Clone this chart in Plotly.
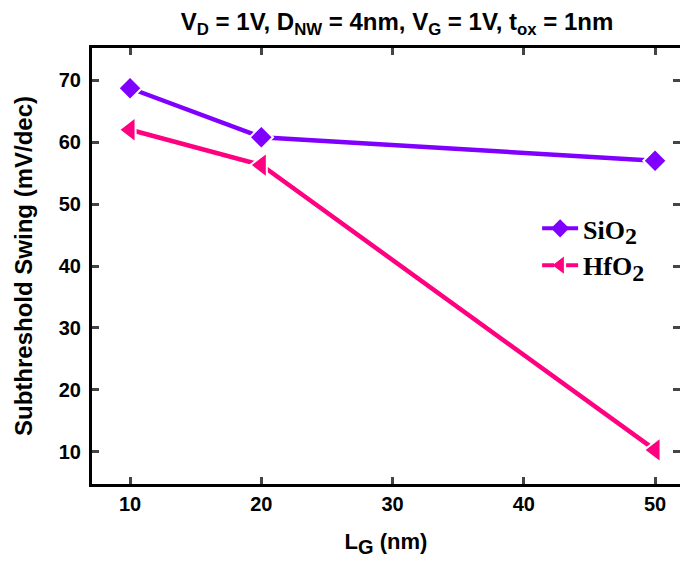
import plotly.graph_objects as go

lg = [10, 20, 50]
sio2 = [68.7, 60.8, 57.0]
hfo2 = [62.0, 56.3, 10.3]
x_ticks = [10, 20, 30, 40, 50]
y_ticks = [10, 20, 30, 40, 50, 60, 70]

purple = "#8000FF"
pink = "#FF0080"

fig = go.Figure()
fig.add_trace(go.Scatter(x=lg, y=sio2, mode="lines+markers", showlegend=False,
                         line=dict(color=purple, width=4.5),
                         marker=dict(symbol="diamond", size=18, color=purple,
                                     line=dict(color="white", width=2))))
fig.add_trace(go.Scatter(x=lg, y=hfo2, mode="lines+markers", showlegend=False,
                         line=dict(color=pink, width=4.5),
                         marker=dict(symbol="triangle-left", size=22, color=pink,
                                     line=dict(color="white", width=2))))
# legend entries
sub = "<sub><span style='font-size:24px'>2</span></sub>"
fig.add_trace(go.Scatter(x=[None], y=[None], mode="lines+markers", name="SiO" + sub,
                         line=dict(color=purple, width=4, dash="dash"),
                         marker=dict(symbol="diamond", size=14, color=purple)))
fig.add_trace(go.Scatter(x=[None], y=[None], mode="lines+markers", name="HfO" + sub,
                         line=dict(color=pink, width=4, dash="dash"),
                         marker=dict(symbol="triangle-left", size=15, color=pink)))

xr = [7.1, 51.9]
yr = [4.8, 75.2]

fig.update_layout(
    width=672, height=553,
    margin=dict(l=84, r=0, t=40, b=77, autoexpand=False),
    paper_bgcolor="white", plot_bgcolor="white",
    title=dict(text="V<sub>D</sub> = 1V, D<sub>NW</sub> = 4nm, V<sub>G</sub> = 1V, t<sub>ox</sub> = 1nm",
               x=0.579, xanchor="center", y=0.99, yanchor="top",
               font=dict(family="Liberation Sans", size=24, color="black", weight="bold")),
    xaxis=dict(range=xr, tickvals=x_ticks, ticks="inside", ticklen=7, tickwidth=2.5,
               showline=True, linewidth=3, linecolor="black", mirror="ticks",
               showgrid=False, zeroline=False, automargin=False,
               tickfont=dict(family="Liberation Sans", size=20, color="black", weight="bold"),
               title=dict(text="L<sub><span style='font-size:20px'>G</span></sub> (nm)", standoff=20,
                          font=dict(family="Liberation Sans", size=22, color="black", weight="bold"))),
    yaxis=dict(range=yr, tickvals=y_ticks, ticks="inside", ticklen=7, tickwidth=2.5,
               showline=True, linewidth=3, linecolor="black", mirror="ticks",
               showgrid=False, zeroline=False, automargin=False, ticklabelstandoff=4,
               tickfont=dict(family="Liberation Sans", size=20, color="black", weight="bold"),
               title=dict(text="Subthreshold Swing (mV/dec)", standoff=20,
                          font=dict(family="Liberation Sans", size=24, color="black", weight="bold"))),
    legend=dict(x=0.757, y=0.64, xanchor="left", yanchor="top",
                bgcolor="rgba(0,0,0,0)", tracegroupgap=4, itemwidth=36,
                font=dict(family="Liberation Serif", size=26, color="black", weight="bold")),
)

fig.write_html("out.html")
